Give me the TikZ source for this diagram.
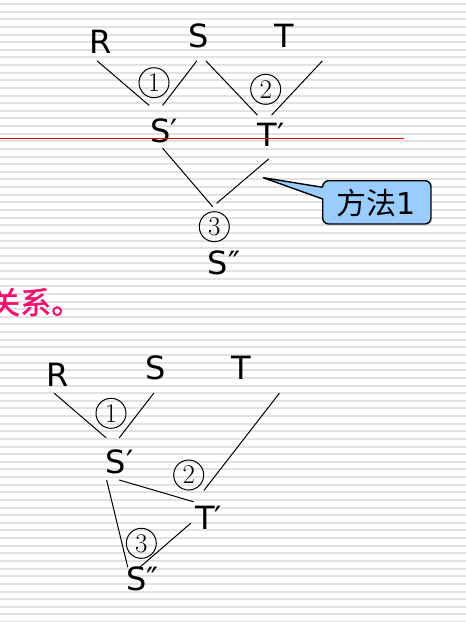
\documentclass[tikz,border=0pt]{standalone}
\usepackage{fontspec}
\newfontfamily\sansf{DejaVu Sans}
\newfontfamily\cjk{Noto Sans CJK SC}
\newfontfamily\cjkm[FakeBold=1.4]{Noto Sans CJK SC}
\definecolor{stripe}{HTML}{E2E2E2}
\definecolor{callblue}{HTML}{99CCFF}
\definecolor{pinkc}{HTML}{F0106E}
\definecolor{redline}{HTML}{E00000}
\tikzset{
  lab/.style={inner sep=0pt, anchor=base, font=\sansf\fontsize{32}{36}\selectfont},
  circnum/.style={circle, draw, line width=1pt, minimum size=30pt, inner sep=0pt, font=\fontsize{27}{27}\selectfont},
  conn/.style={line width=1pt, line cap=round},
}
\begin{document}
\begin{tikzpicture}[x=1pt, y=-1pt]
\useasboundingbox (0,0) rectangle (466,622);
\begin{scope}
\clip (0,0) rectangle (466,622);
\fill[white] (0,0) rectangle (466,622);
\foreach \i in {0,...,82} {
  \fill[stripe] (0,{3+\i*7.63}) rectangle (466,{5+\i*7.63});
}
% ---------------- top diagram ----------------
\node[lab] (R1) at (100.7,53.3) {R};
\node[lab] (S1) at (199,47.8) {S};
\node[lab] (T1) at (284.5,47.7) {T};
\node[lab] (Sp1) at (164,142.6) {S′};
\node[lab] (Tp1) at (271,146.6) {T′};
\node[lab] (Spp1) at (224,274.6) {S″};
\node[circnum] (n11) at (154,82.7) {1};
\node[circnum] (n21) at (265.7,89.3) {2};
\node[circnum] (n31) at (214.3,226.7) {3};
\coordinate (a1) at (97.3,61);
\coordinate (a2) at (149,105.3);
\coordinate (b1) at (196.7,61);
\coordinate (b2) at (162.7,105.3);
\coordinate (c1) at (206,61);
\coordinate (c2) at (257.3,115);
\coordinate (d1) at (322.3,61);
\coordinate (d2) at (271.7,115);
\coordinate (e1) at (162.7,148.3);
\coordinate (e2) at (212.7,206.7);
\coordinate (f1) at (268.7,159);
\coordinate (f2) at (216.7,203.3);
\draw[conn] (a1) -- (a2);
\draw[conn] (b1) -- (b2);
\draw[conn] (c1) -- (c2);
\draw[conn] (d1) -- (d2);
\draw[conn] (e1) -- (e2);
\draw[conn] (f1) -- (f2);
\draw[redline, line width=1.2pt] (0,138.3) -- (404.3,138.3);
% callout
\coordinate (tip) at (263.3,177.7);
\coordinate (pu) at (322.7,187.3);
\coordinate (pl) at (322.7,199);
\draw[fill=callblue, line width=1.4pt, rounded corners=6pt] (322.7,180.7) rectangle (431,224);
\fill[callblue] (tip) -- (324.5,187.3) -- (324.5,199) -- cycle;
\draw[line width=1.4pt, line join=round] (pu) -- (tip) -- (pl);
\node[inner sep=0pt] (call) at (376.5,203) {\cjk\fontsize{30}{30}\selectfont 方法\sansf 1};
% pink text
\node[inner sep=0pt, anchor=base west, text=pinkc, font=\cjkm\fontsize{31}{31}\selectfont] (pink) at (-11,314) {关系。};
% ---------------- bottom diagram ----------------
\node[lab] (R2) at (57.5,386) {R};
\node[lab] (S2) at (155.7,379.8) {S};
\node[lab] (T2) at (241.7,379.3) {T};
\node[lab] (Sp2) at (119.5,473.8) {S′};
\node[lab] (Tp2) at (208.8,529.3) {T′};
\node[lab] (Spp2) at (142.5,590.5) {S″};
\node[circnum] (n12) at (111,413.3) {1};
\node[circnum] (n22) at (188.7,475) {2};
\node[circnum] (n32) at (141.3,543.3) {3};
\coordinate (g1) at (54.3,393.3);
\coordinate (g2) at (106,437.7);
\coordinate (h1) at (153.7,393.3);
\coordinate (h2) at (119.3,437.7);
\coordinate (i1) at (279.3,393.3);
\coordinate (i2) at (204,490.3);
\coordinate (j1) at (119.3,480);
\coordinate (j2) at (193.3,501.7);
\coordinate (k1) at (106.7,480.3);
\coordinate (k2) at (127.7,567);
\coordinate (l1) at (190.7,523.3);
\coordinate (l2) at (139.3,567.7);
\draw[conn] (g1) -- (g2);
\draw[conn] (h1) -- (h2);
\draw[conn] (i1) -- (i2);
\draw[conn] (j1) -- (j2);
\draw[conn] (k1) -- (k2);
\draw[conn] (l1) -- (l2);
\end{scope}
\end{tikzpicture}
\end{document}
